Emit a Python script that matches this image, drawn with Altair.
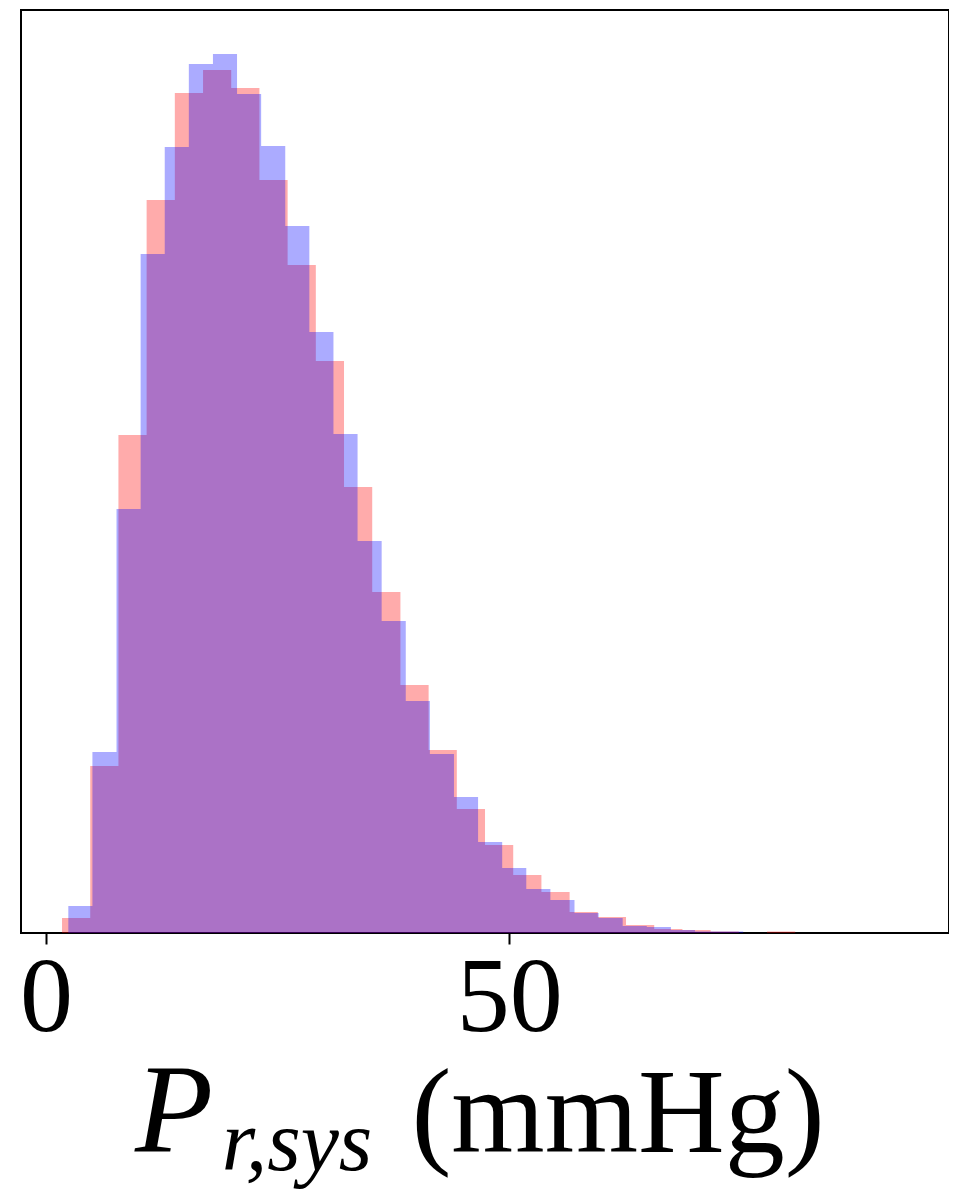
import altair as alt
import pandas as pd

# Histogram bins (x in mmHg); heights are relative counts
red_start = 1.727
red_width = 3.043
red_heights = [15, 167, 498, 733, 840, 863, 845, 753, 668, 572,
               446, 341, 248, 183, 124, 88, 58, 41, 21, 16,
               8, 4, 3, 1.5, 0, 1.5, 0, 0, 0, 0]

blue_start = 2.406
blue_width = 2.601
blue_heights = [27, 181, 424, 679, 786, 869, 879, 839, 787, 707,
                601, 499, 392, 312, 232, 179, 136, 91, 65, 44,
                33, 20, 15, 7, 6, 3, 1.5, 1.5, 0, 0]

tick_values = [0, 50]
x_domain = [-2.70, 97.44]
y_domain = [0, 923]


def step_frame(start, width, heights):
    xs = [start + i * width for i in range(len(heights) + 1)]
    ys = list(heights) + [0]
    return pd.DataFrame({"x": xs, "h": ys})


red_df = step_frame(red_start, red_width, red_heights)
blue_df = step_frame(blue_start, blue_width, blue_heights)

W, H = 928, 923

xenc = alt.X("x:Q", scale=alt.Scale(domain=x_domain, nice=False, zero=False),
             axis=alt.Axis(values=tick_values, title=None, grid=False, domain=False,
                           tickSize=11, tickWidth=2, tickColor="black",
                           labelFont="Liberation Serif", labelFontSize=106,
                           labelColor="black", labelPadding=2, labelFlush=False))
yenc = alt.Y("h:Q", scale=alt.Scale(domain=y_domain, nice=False), axis=None)

red = alt.Chart(red_df).mark_area(interpolate="step-after", color="#ff0000",
                                  opacity=0.33).encode(x=xenc, y=yenc)
blue = alt.Chart(blue_df).mark_area(interpolate="step-after", color="#0000ff",
                                    opacity=0.33).encode(x=xenc, y=yenc)

title_P = alt.Chart(pd.DataFrame({"t": ["P"]})).mark_text(
    font="Liberation Serif", fontStyle="italic", fontSize=128, align="center",
    baseline="alphabetic", color="black").encode(
    x=alt.value(153), y=alt.value(1142), text="t:N")
title_sub = alt.Chart(pd.DataFrame({"t": ["r,sys"]})).mark_text(
    font="Liberation Serif", fontStyle="italic", fontSize=86, align="center",
    baseline="alphabetic", color="black").encode(
    x=alt.value(276), y=alt.value(1160), text="t:N")
title_unit = alt.Chart(pd.DataFrame({"t": ["(mmHg)"]})).mark_text(
    font="Liberation Serif", fontSize=120, align="center",
    baseline="alphabetic", color="black").encode(
    x=alt.value(597), y=alt.value(1142), text="t:N")

chart = alt.layer(red, blue, title_P, title_sub, title_unit).properties(
    width=W, height=H,
    background="white",
    autosize=alt.AutoSizeParams(type="none"),
    padding={"left": 13, "top": 2, "right": 0, "bottom": 260},
).configure_view(stroke="black", strokeWidth=2)

chart.save("out.html", embed_options={"renderer": "svg", "actions": False})
